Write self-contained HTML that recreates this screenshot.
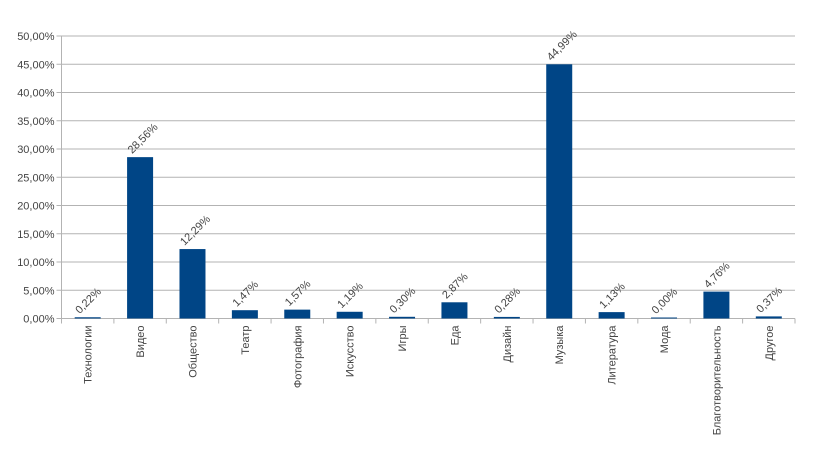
<!DOCTYPE html>
<html><head><meta charset="utf-8"><style>body{margin:0;background:#fff}svg{display:block}text{font-family:"Liberation Sans",sans-serif;font-size:11px;fill:#444}</style></head>
<body>
<svg width="817" height="470" xmlns="http://www.w3.org/2000/svg" id="s"></svg>
<script>
const s=document.getElementById('s');
const L=61.5,R=795,B=318.5,T=36,H=B-T;
const cats=["Технологии","Видео","Общество","Театр","Фотография","Искусство","Игры","Еда","Дизайн","Музыка","Литература","Мода","Благотворительность","Другое"];
const v=[0.22,28.56,12.29,1.47,1.57,1.19,0.30,2.87,0.28,44.99,1.13,0.00,4.76,0.37];
let h='';
for(let i=0;i<=10;i++){const y=B-H*i/10;h+=`<line x1="${L-5}" x2="${R}" y1="${y}" y2="${y}" stroke="#b3b3b3"/>`;
h+=`<text x="${L-7}" y="${y+4}" text-anchor="end">${(i*5).toFixed(2).replace('.',',')}%</text>`;}
h+=`<line x1="${L}" x2="${L}" y1="${T}" y2="${B+5}" stroke="#b3b3b3"/>`;
const w=(R-L)/14;
for(let i=0;i<14;i++){const cx=L+w*(i+0.5);const x0=L+w*(i+1);
h+=`<line x1="${x0}" x2="${x0}" y1="${B}" y2="${B+5}" stroke="#b3b3b3"/>`;
const bh=Math.max(1,H*v[i]/50);
h+=`<rect x="${cx-13}" y="${B-bh}" width="26" height="${bh}" fill="#004586"/>`;
h+=`<text transform="translate(${cx-8},${B-bh-3}) rotate(-45)">${v[i].toFixed(2).replace('.',',')}%</text>`;
h+=`<text transform="translate(${cx+4},${B+7}) rotate(-90)" text-anchor="end">${cats[i]}</text>`;}
s.innerHTML=h;
</script>
</body></html>
